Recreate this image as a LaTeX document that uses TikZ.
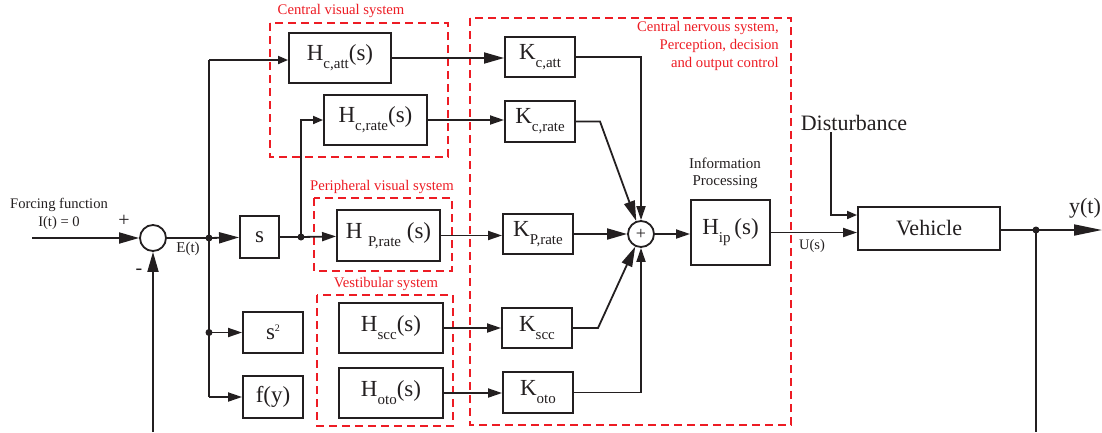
\documentclass[tikz,border=0pt]{standalone}
\usepackage{fontspec}
\setmainfont{Liberation Serif}
\usetikzlibrary{arrows.meta}
\definecolor{ink}{RGB}{35,31,32}
\definecolor{redd}{RGB}{237,28,36}
\newcommand\sbx[1]{\raisebox{-8pt}{\fontsize{15}{15}\selectfont #1}}
\begin{document}
\begin{tikzpicture}[x=1pt,y=-1pt,
 blk/.style={draw=ink, line width=1.9pt, fill=white, inner sep=0pt, text=ink, font=\fontsize{23}{26}\selectfont},
 con/.style={draw=ink, line width=1.8pt},
 tS/.style={-{Triangle[length=10pt,width=8pt]}},
 tM/.style={-{Triangle[length=14pt,width=9pt]}},
 tL/.style={-{Triangle[length=20pt,width=11pt]}},
 tXL/.style={-{Triangle[length=28pt,width=11pt]}},
 grp/.style={draw=redd, line width=1.6pt, dash pattern=on 8pt off 5pt},
 rlab/.style={text=redd, font=\fontsize{14.7}{18}\selectfont, inner sep=0pt},
 lab/.style={text=ink, inner sep=0pt},
 dot/.style={circle, fill=ink, inner sep=0pt, minimum size=7pt},
 sumc/.style={circle, draw=ink, line width=1.8pt, minimum size=26pt, inner sep=0pt, fill=white, text=ink}
]
\useasboundingbox (0,0) rectangle (1102,432);
% groups
\draw[grp] (270,23) rectangle (448,157);
\draw[grp] (314,198) rectangle (452,271);
\draw[grp] (317,295) rectangle (453,426);
\draw[grp] (470,18) rectangle (791,425);
\node[rlab] (lcv) at (341,11) {Central visual system};
\node[rlab] (lpv) at (382,187) {Peripheral visual system};
\node[rlab] (lvs) at (386,284) {Vestibular system};
\node[rlab, align=right, anchor=east] (lcns) at (779,46) {Central nervous system,\\Perception, decision\hspace*{3pt}\\and output control};
% blocks
\node[blk, minimum width=39, minimum height=42, font=\fontsize{23}{26}\selectfont] (s) at (259.5,237) {s};
\node[blk, minimum width=60, minimum height=41, font=\fontsize{23}{26}\selectfont] (s2) at (273,332.5) {s\raisebox{8pt}{\fontsize{10}{10}\selectfont 2}};
\node[blk, minimum width=60, minimum height=42, font=\fontsize{23}{26}\selectfont] (fy) at (273,397) {f(y)};
\node[blk, minimum width=102, minimum height=50] (hcatt) at (340,58) {H\sbx{c,att}(s)};
\node[blk, minimum width=103, minimum height=50] (hcrate) at (375.5,120) {H\sbx{c,rate}(s)};
\node[blk, minimum width=103, minimum height=51] (hprate) at (388.5,235.5) {H \sbx{P,rate} (s)};
\node[blk, minimum width=104, minimum height=50] (hscc) at (391,328) {H\sbx{scc}(s)};
\node[blk, minimum width=104, minimum height=50] (hoto) at (391,393) {H\sbx{oto}(s)};
\node[blk, minimum width=70, minimum height=40] (kcatt) at (540,57) {K\sbx{c,att}};
\node[blk, minimum width=70, minimum height=41] (kcrate) at (540,121.5) {K\sbx{c,rate}};
\node[blk, minimum width=70, minimum height=40] (kprate) at (538,234) {K\sbx{P,rate}};
\node[blk, minimum width=70, minimum height=40] (kscc) at (537,328) {K\sbx{scc}};
\node[blk, minimum width=70, minimum height=41] (koto) at (538,392.5) {K\sbx{oto}};
\node[blk, minimum width=79, minimum height=65] (hip) at (730.5,232.5) {H\sbx{ip}\,(s)};
\node[blk, minimum width=142, minimum height=43, font=\fontsize{22}{24}\selectfont] (veh) at (929,228.5) {Vehicle};
\node[sumc] (sum1) at (153,238) {};
\node[sumc, font=\fontsize{18}{18}\selectfont] (sum2) at (641,234) {+};
% labels
\node[lab, align=center, font=\fontsize{14.6}{18}\selectfont] (ff) at (59,214) {Forcing function\\I(t) = 0};
\node[lab, font=\fontsize{20}{20}\selectfont] (plus) at (124,221) {+};
\node[lab, font=\fontsize{20}{20}\selectfont] (minus) at (139,272) {-};
\node[lab, font=\fontsize{15}{17}\selectfont] (et) at (188,249) {E(t)};
\node[lab, align=center, font=\fontsize{15}{17}\selectfont] (ip) at (725,173) {Information\\Processing};
\node[lab, font=\fontsize{14.5}{16}\selectfont] (us) at (812,246) {U(s)};
\node[lab, font=\fontsize{22}{24}\selectfont] (dist) at (854,123) {Disturbance};
\node[lab, font=\fontsize{22}{24}\selectfont] (yt) at (1085,208) {y(t)};
% coordinates
\coordinate (in) at (32,238);
\coordinate (j1) at (209,238);
\coordinate (jtop) at (209,60);
\coordinate (j2) at (209,332.5);
\coordinate (jbot) at (209,397);
\coordinate (j3) at (301,237);
\coordinate (c1) at (600,121.5);
\coordinate (c2) at (598,328);
\coordinate (d1) at (831,132);
\coordinate (j4) at (1036,230);
\coordinate (out) at (1102,230);
\coordinate (fb1) at (153,432);
\coordinate (fb2) at (1036,432);
% connectors
\draw[con,tL] (in) -- (sum1);
\draw[con] (sum1) -- (j1);
\draw[con,tL] (j1) -- (s);
\draw[con] (jtop) -- (jbot);
\draw[con,tS] (jtop) -- (jtop -| hcatt.west);
\draw[con,tM] (j2) -- (s2);
\draw[con,tM] (jbot) -- (fy);
\draw[con] (s) -- (j3);
\draw[con,tM] (j3) -- (hprate);
\draw[con,tS] (j3) |- (hcrate);
\draw[con,tL] (hcatt.east) -- (hcatt.east -| kcatt.west);
\draw[con,tM] (hcrate.east) -- (hcrate.east -| kcrate.west);
\draw[con,tM] (hprate.east) -- (hprate.east -| kprate.west);
\draw[con,tM] (hscc.east) -- (hscc.east -| kscc.west);
\draw[con,tM] (hoto.east) -- (hoto.east -| koto.west);
\draw[con,tM] (kcatt) -| (sum2);
\draw[con,tL] (kcrate.east) -- (c1) -- (sum2);
\draw[con,tL] (kprate) -- (sum2);
\draw[con,tL] (kscc.east) -- (c2) -- (sum2);
\draw[con,tM] (koto) -| (sum2);
\draw[con,tM] (sum2) -- (sum2 -| hip.west);
\draw[con,tM] (hip.east) -- (hip.east -| veh.west);
\draw[con,tS] (d1) |- ([yshift=13.5pt]veh.west);
\draw[con] (veh.east |- j4) -- (j4);
\draw[con,tXL] (j4) -- (out);
\draw[con] (j4) -- (fb2);
\draw[con,tL] (fb1) -- (sum1);
% dots
\node[dot] (dj1) at (j1) {};
\node[dot] (dj2) at (j2) {};
\node[dot] (dj3) at (j3) {};
\node[dot] (dj4) at (j4) {};
\end{tikzpicture}
\end{document}
